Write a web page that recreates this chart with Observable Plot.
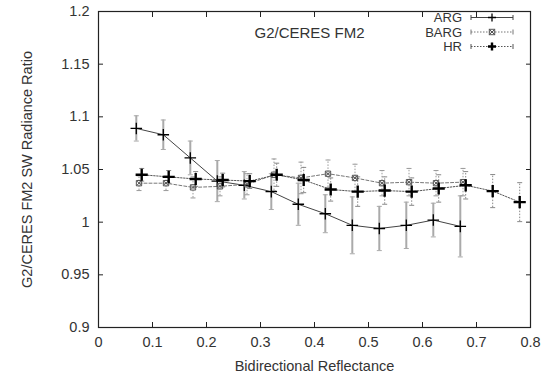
<!DOCTYPE html>
<html><head><meta charset="utf-8">
<script src="https://cdn.jsdelivr.net/npm/d3@7"></script>
<script src="https://cdn.jsdelivr.net/npm/@observablehq/plot@0.6"></script>
<style>body{margin:0;background:#fff;} #chart svg{display:block;}</style>
</head><body><div id="chart"></div>
<script>
const xTicks = [0, 0.1, 0.2, 0.3, 0.4, 0.5, 0.6, 0.7, 0.8];
const yTicks = [0.9, 0.95, 1, 1.05, 1.1, 1.15, 1.2];
const seriesNames = ["ARG", "BARG", "HR"];
const titleText = "G2/CERES FM2";
const xLabel = "Bidirectional Reflectance";
const yLabel = "G2/CERES FM2 SW Radiance Ratio";

const argX = [0.07, 0.12, 0.17, 0.22, 0.27, 0.32, 0.37, 0.42, 0.47, 0.52, 0.57, 0.62, 0.67];
const argY = [1.089, 1.083, 1.061, 1.039, 1.035, 1.029, 1.017, 1.008, 0.997, 0.994, 0.997, 1.002, 0.996];
const argErr = [0.012, 0.014, 0.016, 0.0195, 0.013, 0.017, 0.02, 0.018, 0.027, 0.021, 0.022, 0.016, 0.029];

const bargX = [0.075, 0.125, 0.175, 0.225, 0.275, 0.325, 0.375, 0.425, 0.475, 0.525, 0.575, 0.625, 0.675];
const bargY = [1.037, 1.037, 1.033, 1.034, 1.036, 1.045, 1.042, 1.046, 1.042, 1.037, 1.038, 1.037, 1.038];
const bargErr = [0.007, 0.007, 0.01, 0.009, 0.01, 0.015, 0.015, 0.013, 0.013, 0.012, 0.013, 0.012, 0.013];

const hrX = [0.08, 0.13, 0.18, 0.23, 0.28, 0.33, 0.38, 0.43, 0.48, 0.53, 0.58, 0.63, 0.68, 0.73, 0.78];
const hrY = [1.045, 1.043, 1.041, 1.040, 1.039, 1.045, 1.040, 1.031, 1.029, 1.030, 1.029, 1.032, 1.035, 1.0295, 1.019];
const hrErr = [0.006, 0.006, 0.007, 0.0065, 0.007, 0.011, 0.012, 0.011, 0.014, 0.013, 0.013, 0.013, 0.013, 0.0157, 0.0185];

const mk = (X, Y, E) => X.map((x, i) => ({x, y: Y[i], lo: Y[i] - E[i], hi: Y[i] + E[i]}));
const arg = mk(argX, argY, argErr);
const barg = mk(bargX, bargY, bargErr);
const hr = mk(hrX, hrY, hrErr);

const cap = {draw(ctx, size) { const r = Math.sqrt(size / Math.PI); ctx.moveTo(-r, 0); ctx.lineTo(r, 0); }};
const fmt = d => String(d);

function errMarks(data, stroke, width, dash) {
  return [
    Plot.ruleX(data, {x: "x", y1: "lo", y2: "hi", stroke, strokeWidth: width, strokeDasharray: dash}),
    Plot.dot(data, {x: "x", y: "lo", symbol: cap, r: 2.5, stroke, strokeWidth: 1}),
    Plot.dot(data, {x: "x", y: "hi", symbol: cap, r: 2.5, stroke, strokeWidth: 1})
  ];
}

const chart = Plot.plot({
  width: 550, height: 375,
  marginLeft: 98, marginRight: 20, marginTop: 11, marginBottom: 48,
  style: {fontFamily: "'Liberation Sans', Arial, sans-serif", fontSize: "14.5px", color: "#333", background: "#fff"},
  x: {domain: [0, 0.8]},
  y: {domain: [0.9, 1.2]},
  marks: [
    Plot.axisX(xTicks, {anchor: "bottom", tickSize: -5, tickPadding: 14, tickFormat: fmt, label: null, stroke: "#222"}),
    Plot.axisX(xTicks, {anchor: "top", tickSize: -5, tickFormat: () => "", label: null, stroke: "#222"}),
    Plot.axisY(yTicks, {anchor: "left", tickSize: -5, tickPadding: 14, tickFormat: fmt, label: null, stroke: "#222"}),
    Plot.axisY(yTicks, {anchor: "right", tickSize: -5, tickFormat: () => "", label: null, stroke: "#222"}),
    Plot.frame({stroke: "#222", strokeWidth: 1.2}),
    ...errMarks(arg, "#aaa", 2, null),
    ...errMarks(barg, "#999", 1, "1.5,1.5"),
    ...errMarks(hr, "#888", 1, "1.5,1.5"),
    Plot.line(arg, {x: "x", y: "y", stroke: "#444", strokeWidth: 1}),
    Plot.line(barg, {x: "x", y: "y", stroke: "#777", strokeWidth: 1, strokeDasharray: "3,2"}),
    Plot.line(hr, {x: "x", y: "y", stroke: "#555", strokeWidth: 1, strokeDasharray: "1.5,1.5"}),
    Plot.dot(arg, {x: "x", y: "y", symbol: "plus", r: 3.8, stroke: "#000", strokeWidth: 1.3}),
    Plot.dot(barg, {x: "x", y: "y", symbol: "square", r: 3, stroke: "#555", strokeWidth: 1}),
    Plot.dot(barg, {x: "x", y: "y", symbol: "times", r: 2.2, stroke: "#555", strokeWidth: 1}),
    Plot.dot(hr, {x: "x", y: "y", symbol: "plus", r: 4, stroke: "#000", strokeWidth: 2.4}),
    Plot.text([titleText], {frameAnchor: "top", lineAnchor: "middle", dx: -5, dy: 22, fontSize: 15, fill: "#333"}),
    Plot.text([xLabel], {frameAnchor: "bottom", lineAnchor: "middle", dy: 39, fill: "#333"}),
    Plot.text([yLabel], {frameAnchor: "left", textAnchor: "middle", lineAnchor: "middle", dx: -71, rotate: -90, fill: "#333"})
  ]
});

// legend (layout only)
const svg = d3.select(chart);
const lg = svg.append("g").attr("font-family", "'Liberation Sans', Arial, sans-serif").attr("font-size", "13px");
const legendStyles = [
  {line: "#444", dash: null, w: 1},
  {line: "#777", dash: "1.5,1.5", w: 1},
  {line: "#555", dash: "1.5,1.5", w: 1}
];
const lx0 = 471, lx1 = 513, ltx = 462;
seriesNames.forEach((name, i) => {
  const y = 17.5 + i * 14.5;
  lg.append("text").attr("x", ltx).attr("y", y).attr("dy", "0.35em").attr("text-anchor", "end").attr("fill", "#333").text(name);
  const s = legendStyles[i];
  lg.append("line").attr("x1", lx0).attr("x2", lx1).attr("y1", y).attr("y2", y).attr("stroke", s.line).attr("stroke-width", s.w).attr("stroke-dasharray", s.dash);
  [lx0, lx1].forEach(x => lg.append("line").attr("x1", x).attr("x2", x).attr("y1", y - 2.5).attr("y2", y + 2.5).attr("stroke", s.line));
  const cx = (lx0 + lx1) / 2;
  if (i === 0) {
    lg.append("path").attr("d", `M${cx-4},${y}h8M${cx},${y-4}v8`).attr("stroke", "#000").attr("stroke-width", 1.3);
  } else if (i === 1) {
    lg.append("rect").attr("x", cx - 2.7).attr("y", y - 2.7).attr("width", 5.4).attr("height", 5.4).attr("fill", "none").attr("stroke", "#555");
    lg.append("path").attr("d", `M${cx-2},${y-2}l4,4M${cx-2},${y+2}l4,-4`).attr("stroke", "#555");
  } else {
    lg.append("path").attr("d", `M${cx-4},${y}h8M${cx},${y-4}v8`).attr("stroke", "#000").attr("stroke-width", 2.4);
  }
});

document.getElementById("chart").appendChild(chart);
</script>
</body></html>
